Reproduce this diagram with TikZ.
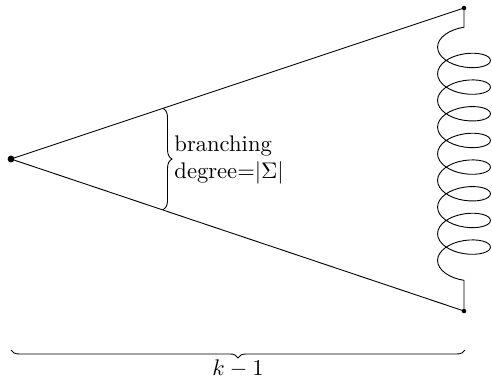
\documentclass[tikz,border=0pt]{standalone}
\usetikzlibrary{decorations.pathmorphing,decorations.pathreplacing}
\begin{document}
\begin{tikzpicture}[x=0.4425pt,y=-0.4425pt,
  dotnode/.style={circle,fill,inner sep=0pt,minimum size=#1},
  bracedec/.style={decorate,decoration={brace,amplitude=#1}}]
\useasboundingbox (0,0) rectangle (492,382);
\node[dotnode=3pt] (o) at (11,159) {};
\node[dotnode=2pt] (t) at (464,8) {};
\node[dotnode=2pt] (b) at (464,311) {};
\draw (o.center) -- (t.center);
\draw (o.center) -- (b.center);
\draw[decorate,decoration={coil,mirror,amplitude=11.7pt,segment length=11.8pt,pre length=8.5pt,post length=10pt}] (t.center) -- (b.center);
\coordinate (bt) at (163,108.3);
\coordinate (bb) at (163,209.7);
\draw[bracedec=4pt] (bt) -- (bb);
\node[anchor=west,align=left,inner sep=0pt] (lbl) at (174,160) {branching\\degree=$|\Sigma|$};
\coordinate (l1) at (11,350);
\coordinate (l2) at (465,350);
\draw[bracedec=3.5pt] (l2) -- (l1) node[midway,below=4pt,inner sep=0pt] (k) {$k-1$};
\end{tikzpicture}
\end{document}
